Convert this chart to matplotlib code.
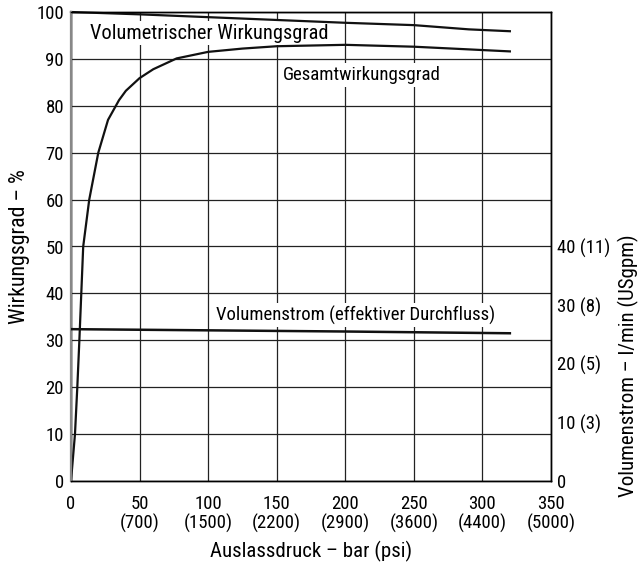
import matplotlib
matplotlib.use("Agg")
import matplotlib.pyplot as plt
from matplotlib import font_manager

# ── Daten ─────────────────────────────────────────────────────────────────────
x_ticks = [0, 50, 100, 150, 200, 250, 300, 350]
x_ticklabels = ["0", "50\n(700)", "100\n(1500)", "150\n(2200)", "200\n(2900)",
                "250\n(3600)", "300\n(4400)", "350\n(5000)"]
y_ticks = [0, 10, 20, 30, 40, 50, 60, 70, 80, 90, 100]
flow_ticks = [0, 10, 20, 30, 40]
flow_ticklabels = ["0", "10 (3)", "20 (5)", "30 (8)", "40 (11)"]

# volumetrischer Wirkungsgrad (%)
vol_p = [0, 50, 100, 150, 200, 250, 290, 320]
vol_eta = [100, 99.5, 98.9, 98.3, 97.7, 97.2, 96.3, 95.9]

# Gesamtwirkungsgrad (%)
ges_p = [0, 2.9, 4.6, 6.1, 7.5, 8.9, 13.3, 19.9, 27, 35, 40, 50, 60, 77, 100, 125, 150, 200, 250, 320]
ges_eta = [0, 10, 20, 30, 40, 50, 60, 70, 77, 81.2, 83.2, 85.9, 87.8, 90.1, 91.5, 92.2, 92.7, 93.0, 92.6, 91.6]

# Volumenstrom (l/min)
flow_p = [0, 100, 200, 320]
flow_q = [25.9, 25.7, 25.5, 25.2]

# ── Schrift: schmale Schrift suchen ────────────────────────────────────────────
fonts = font_manager.fontManager.ttflist
names = {f.name for f in fonts}
stretch = "normal"
family = "Liberation Sans"
size = 12
for cand in ["Roboto Condensed", "Liberation Sans Narrow", "DejaVu Sans Condensed"]:
    if cand in names:
        family, size = cand, 13.5
        break
else:
    if any(f.name == "DejaVu Sans" and str(f.stretch) in ("condensed", "semi-condensed") for f in fonts):
        family, stretch, size = "DejaVu Sans", "condensed", 12.5

plt.rcParams["font.family"] = [family, "DejaVu Sans"]
plt.rcParams["font.stretch"] = stretch
plt.rcParams["font.size"] = size
label_size = size * 1.11

# ── Plot ──────────────────────────────────────────────────────────────────────
fig = plt.figure(figsize=(6.43, 5.62), dpi=100)
ax = fig.add_axes([71 / 643, 81 / 562, 480 / 643, 469 / 562])
ax2 = ax.twinx()

ax.set_xlim(0, 350)
ax.set_ylim(0, 100)
ax2.set_ylim(0, 80)

ax.set_xticks(x_ticks)
ax.set_xticklabels(x_ticklabels, linespacing=1.05)
ax.set_yticks(y_ticks)
ax2.set_yticks(flow_ticks)
ax2.set_yticklabels(flow_ticklabels)
ax.tick_params(axis="y", length=0, pad=5)
ax.tick_params(axis="x", length=0, pad=10)
ax2.tick_params(length=0, pad=4)

ax.grid(True, color="#222222", lw=0.9, zorder=0)
ax.set_axisbelow(True)
for sp in ax.spines.values():
    sp.set_linewidth(1.0)
for sp in ax2.spines.values():
    sp.set_linewidth(1.0)
ax2.spines["left"].set_color("#888888")
ax2.spines["left"].set_linewidth(1.6)

ax.plot(vol_p, vol_eta, color="#111111", lw=1.6, zorder=5, clip_on=False)
ax.plot(ges_p, ges_eta, color="#111111", lw=1.6, zorder=5)
ax2.plot(flow_p, flow_q, color="#111111", lw=1.8, zorder=5)

box = dict(facecolor="white", edgecolor="none", pad=2)
ax.text(13.9, 95.5, "Volumetrischer Wirkungsgrad", va="center", ha="left", bbox=box, zorder=3,
        fontsize=size * 1.09)
ax.text(154.6, 86.6, "Gesamtwirkungsgrad", va="center", ha="left", bbox=box, zorder=3,
        fontsize=size * 1.01)
ax.text(106, 35.4, "Volumenstrom (effektiver Durchfluss)", va="center", ha="left", bbox=box,
        zorder=3, fontsize=size * 1.0)

ax.set_xlabel("Auslassdruck – bar (psi)", labelpad=6, fontsize=label_size)
ax.set_ylabel("Wirkungsgrad – %", fontsize=label_size * 1.05)
ax.yaxis.set_label_coords(-0.085, 0.5)
fig.text(628 / 643, 1 - 366 / 562, "Volumenstrom – l/min (USgpm)", rotation=90,
         ha="center", va="center", fontsize=label_size)

fig.savefig("out.png", dpi=100)
